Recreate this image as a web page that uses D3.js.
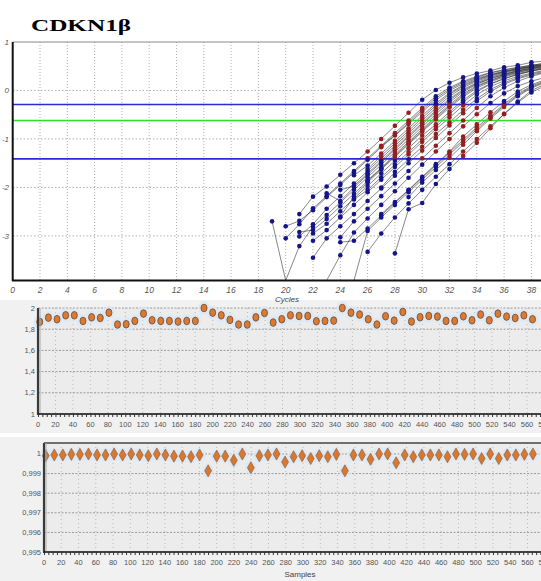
<!DOCTYPE html>
<html>
<head>
<meta charset="utf-8">
<script src="https://cdn.jsdelivr.net/npm/d3@7"></script>
<style>
  body { margin: 0; background: #fff; }
  svg { display: block; }
</style>
</head>
<body>
<svg id="chart" width="541" height="581"></svg>
<script>
// ---- amplification plot data (log fluorescence per cycle) ----
var curveStarts = [21, 20, 19, 20, 21, 21, 22, 22, 22, 23, 24, 24, 24, 25, 25, 26, 26, 26, 27, 27, 28, 29, 25, 24, 23, 27];
var curveLogF = [
  [-2.55,-2.19,-1.98,-1.74,-1.50,-1.26,-1.00,-0.73,-0.46,-0.19,0.01,0.16,0.27,0.35,0.41,0.48,0.52,0.58,0.61],
  [-3.05,-2.76,-2.43,-2.18,-1.92,-1.66,-1.40,-1.14,-0.88,-0.62,-0.36,-0.12,0.06,0.19,0.29,0.37,0.43,0.48,0.52,0.56],
  [-2.70,-3.95,-3.21,-2.81,-2.57,-2.31,-2.05,-1.79,-1.53,-1.27,-1.01,-0.75,-0.49,-0.24,-0.03,0.13,0.24,0.33,0.40,0.46,0.50],
  [-2.80,-2.69,-2.47,-2.20,-1.95,-1.69,-1.43,-1.17,-0.93,-0.69,-0.44,-0.20,0.00,0.14,0.25,0.33,0.40,0.45,0.50,0.54],
  [-3.01,-2.76,-2.44,-2.18,-1.92,-1.66,-1.40,-1.14,-0.88,-0.62,-0.36,-0.12,0.06,0.19,0.29,0.37,0.43,0.48,0.52],
  [-2.92,-2.88,-2.65,-2.39,-2.13,-1.87,-1.61,-1.35,-1.09,-0.83,-0.57,-0.32,-0.10,0.08,0.20,0.30,0.37,0.43,0.47],
  [-2.95,-2.75,-2.49,-2.23,-1.97,-1.71,-1.45,-1.19,-0.93,-0.70,-0.44,-0.20,0.00,0.14,0.25,0.33,0.40,0.45],
  [-3.10,-2.88,-2.62,-2.36,-2.10,-1.84,-1.58,-1.32,-1.06,-0.80,-0.56,-0.31,-0.09,0.08,0.20,0.29,0.36,0.42],
  [-3.45,-3.05,-2.80,-2.55,-2.28,-2.02,-1.76,-1.50,-1.24,-0.98,-0.72,-0.47,-0.22,-0.02,0.13,0.24,0.32,0.38],
  [-3.95,-3.40,-2.93,-2.64,-2.36,-2.08,-1.80,-1.53,-1.26,-1.00,-0.74,-0.49,-0.26,-0.06,0.09,0.19,0.27],
  [-2.05,-1.97,-1.71,-1.45,-1.19,-0.93,-0.67,-0.41,-0.17,0.02,0.16,0.27,0.35,0.41,0.47,0.51],
  [-3.03,-2.70,-2.44,-2.18,-1.92,-1.66,-1.40,-1.14,-0.88,-0.62,-0.36,-0.12,0.06,0.19,0.29,0.37],
  [-3.13,-3.10,-2.85,-2.58,-2.32,-2.06,-1.80,-1.54,-1.28,-1.02,-0.76,-0.52,-0.28,-0.07,0.09,0.20],
  [-3.95,-2.90,-2.62,-2.36,-2.10,-1.84,-1.58,-1.32,-1.06,-0.80,-0.55,-0.31,-0.10,0.07,0.18],
  [-2.25,-2.05,-1.79,-1.53,-1.27,-1.01,-0.75,-0.49,-0.24,-0.03,0.13,0.24,0.33,0.40,0.46],
  [-3.33,-2.95,-2.62,-2.33,-2.05,-1.78,-1.52,-1.26,-1.00,-0.74,-0.49,-0.25,-0.04,0.10],
  [-1.85,-1.60,-1.32,-1.06,-0.80,-0.54,-0.29,-0.07,0.10,0.21,0.31,0.38,0.44,0.49],
  [-1.62,-1.35,-1.09,-0.83,-0.57,-0.31,-0.08,0.09,0.21,0.31,0.38,0.44,0.49,0.53],
  [-2.00,-1.68,-1.42,-1.16,-0.90,-0.66,-0.40,-0.17,0.02,0.16,0.26,0.34,0.40],
  [-1.15,-0.92,-0.66,-0.40,-0.16,0.03,0.17,0.27,0.36,0.42,0.47,0.52,0.56],
  [-3.36,-2.45,-2.32,-1.93,-1.62,-1.35,-1.08,-0.78,-0.48,-0.23,0.00,0.13],
  [-2.20,-1.90,-1.64,-1.39,-1.12,-0.84,-0.58,-0.34,-0.12,0.05,0.16],
  [-1.75,-1.55,-1.30,-1.04,-0.78,-0.52,-0.27,-0.05,0.11,0.23,0.32,0.39,0.45,0.50,0.54],
  [-2.60,-2.19,-1.90,-1.63,-1.37,-1.11,-0.85,-0.60,-0.35,-0.13,0.05,0.18,0.28,0.35,0.41,0.46],
  [-2.12,-2.28,-2.00,-1.74,-1.48,-1.22,-0.96,-0.70,-0.44,-0.20,0.00,0.14,0.25,0.33,0.40,0.45,0.50],
  [-2.55,-2.30,-2.05,-1.78,-1.52,-1.26,-0.95,-0.70,-0.45,-0.22,-0.02,0.12,0.22]
];
var upperThreshold = -0.29, fitThreshold = -0.62, lowerThreshold = -1.41;
var cycleTicks = [0,2,4,6,8,10,12,14,16,18,20,22,24,26,28,30,32,34,36,38];
var logTicks = [1, 0, -1, -2, -3];

// ---- per-sample quality values ----
var sampleSpacing = 9.9;
var efficiency = [1.869,1.909,1.894,1.931,1.931,1.878,1.912,1.906,1.956,1.844,1.847,1.878,1.947,1.884,1.878,1.878,1.872,1.878,1.878,2.0,1.956,1.931,1.888,1.844,1.844,1.912,1.953,
  1.863,1.894,1.931,1.925,1.925,1.875,1.878,1.881,2.0,1.956,1.938,1.894,1.844,1.922,1.881,1.963,1.872,1.913,1.925,1.919,1.878,1.878,1.922,1.884,1.938,1.884,1.947,1.919,1.906,1.931,1.894];
var rSquared = [0.99991,0.99995,0.99995,0.99998,0.99998,1.0,0.99995,0.99995,1.0,0.99995,1.0,0.99995,0.99991,1.0,0.99995,0.99989,0.99989,0.99986,0.99995,0.99914,0.99989,0.99989,0.99968,1.0,0.9993,0.99991,0.99995,
  1.0,0.99959,0.99986,0.99991,0.99977,0.99991,0.99986,0.99998,0.99914,0.99995,0.99995,0.99973,1.0,1.0,0.99955,0.99995,0.99986,0.99995,0.99995,0.99995,0.99986,1.0,0.99998,1.0,0.99977,1.0,0.99977,0.99995,0.99995,0.99998,1.0];
var sampleTicks = [0,20,40,60,80,100,120,140,160,180,200,220,240,260,280,300,320,340,360,380,400,420,440,460,480,500,520,540,560,580];
var effTicks = [1, 1.2, 1.4, 1.6, 1.8, 2];
var effTickLabels = ["1", "1,2", "1,4", "1,6", "1,8", "2"];
var r2Ticks = [0.995, 0.996, 0.997, 0.998, 0.999, 1];
var r2TickLabels = ["0,995", "0,996", "0,997", "0,998", "0,999", "1"];

var svg = d3.select("#chart");
var W = 541;

// ================= amplification plot =================
var x1 = d3.scaleLinear().domain([0, 38]).range([12.7, 531.4]);
var y1 = d3.scaleLinear().domain([-3.92, 1]).range([280.5, 42]).clamp(true);

svg.append("text")
  .attr("x", 31).attr("y", 31)
  .attr("textLength", 100).attr("lengthAdjust", "spacingAndGlyphs")
  .style("font-family", "'Liberation Serif', 'DejaVu Serif', serif")
  .style("font-weight", "bold").style("font-size", "17px")
  .text("CDKN1β");

svg.append("defs").append("clipPath").attr("id", "clip1")
  .append("rect").attr("x", 12.7).attr("y", 41).attr("width", W - 12.7).attr("height", 240);

var g1 = svg.append("g");
// grid
g1.selectAll(".vgrid").data(cycleTicks.slice(1)).enter().append("line")
  .attr("x1", d => x1(d)).attr("x2", d => x1(d))
  .attr("y1", 42).attr("y2", 280)
  .attr("stroke", "#b0b0b0").attr("stroke-width", 1).attr("stroke-dasharray", "1,2");
g1.selectAll(".hgrid").data(logTicks.slice(1)).enter().append("line")
  .attr("x1", 13).attr("x2", W)
  .attr("y1", d => y1(d)).attr("y2", d => y1(d))
  .attr("stroke", "#b0b0b0").attr("stroke-width", 1).attr("stroke-dasharray", "1.5,2");
g1.append("line").attr("x1", 13).attr("x2", W).attr("y1", 42).attr("y2", 42)
  .attr("stroke", "#8a8a8a").attr("stroke-width", 1);

var plot1 = g1.append("g").attr("clip-path", "url(#clip1)");

var curves = curveLogF.map(function(vals, i) {
  return vals.map(function(v, j) { return { c: curveStarts[i] + j, v: v }; });
});

var line1 = d3.line().x(d => x1(d.c)).y(d => y1(d.v));
plot1.selectAll(".curve").data(curves).enter().append("path")
  .attr("d", line1)
  .attr("fill", "none").attr("stroke", "#1a1a1a")
  .attr("stroke-width", 0.7).attr("stroke-opacity", 0.75);

// thresholds
[[upperThreshold, "#2b2bd6"], [fitThreshold, "#2ee02e"], [lowerThreshold, "#2b2bd6"]].forEach(function(t) {
  plot1.append("line").attr("x1", 13).attr("x2", W)
    .attr("y1", y1(t[0])).attr("y2", y1(t[0]))
    .attr("stroke", t[1]).attr("stroke-width", 1.6);
});

var pts = [];
curves.forEach(function(cv) { cv.forEach(function(p) { if (p.v > -3.9) pts.push(p); }); });
plot1.selectAll(".pt").data(pts).enter().append("circle")
  .attr("cx", d => x1(d.c)).attr("cy", d => y1(d.v)).attr("r", 2.3)
  .attr("fill", d => (d.v > upperThreshold || d.v < lowerThreshold) ? "#14148c" : "#951f1f");

// axes lines
g1.append("line").attr("x1", 12.7).attr("x2", 12.7).attr("y1", 42).attr("y2", 281)
  .attr("stroke", "#111").attr("stroke-width", 2);
g1.append("line").attr("x1", 12).attr("x2", W).attr("y1", 280.5).attr("y2", 280.5)
  .attr("stroke", "#111").attr("stroke-width", 2);

var tickFont = "'Liberation Sans', Arial, sans-serif";
g1.selectAll(".xl").data(cycleTicks).enter().append("text")
  .attr("x", d => x1(d)).attr("y", 293).attr("text-anchor", "middle")
  .style("font-family", tickFont).style("font-style", "italic").style("font-size", "8.5px")
  .attr("fill", "#555").text(d => d);
g1.selectAll(".yl").data(logTicks).enter().append("text")
  .attr("x", 9).attr("y", d => y1(d) + 3).attr("text-anchor", "end")
  .style("font-family", tickFont).style("font-style", "italic").style("font-size", "8px")
  .attr("fill", "#555").text(d => d);

// ================= per-sample panels =================
var narrowFont = "'Liberation Sans Narrow', 'Liberation Sans', Arial, sans-serif";

function drawSamplePanel(p) {
  var g = svg.append("g");
  g.append("rect").attr("x", 0).attr("y", p.bgTop).attr("width", W).attr("height", p.bgBottom - p.bgTop)
    .attr("fill", "#f1f1f1");
  g.append("rect").attr("x", p.left).attr("y", p.top).attr("width", W - p.left).attr("height", p.bottom - p.top)
    .attr("fill", "#ececec");

  var x = d3.scaleLinear().domain([0, 560]).range([p.left, p.x560]);
  var y = d3.scaleLinear().domain(p.domain).range([p.bottom, p.top]);

  // grid
  g.selectAll(".vg").data(sampleTicks.slice(1)).enter().append("line")
    .attr("x1", d => x(d)).attr("x2", d => x(d)).attr("y1", p.top).attr("y2", p.bottom)
    .attr("stroke", "#b8b8b8").attr("stroke-dasharray", "1,3");
  g.selectAll(".hg").data(p.ticks).enter().append("line")
    .attr("x1", p.left).attr("x2", W).attr("y1", d => y(d)).attr("y2", d => y(d))
    .attr("stroke", "#9a9a9a").attr("stroke-dasharray", "2,1.5");
  if (p.topBorder) {
    g.append("line").attr("x1", p.left).attr("x2", W).attr("y1", p.top).attr("y2", p.top)
      .attr("stroke", "#444").attr("stroke-width", 1.5);
  }

  var data = p.values.map(function(v, i) { return { s: 2 + i * sampleSpacing, v: v }; });

  // light halos
  g.selectAll(".halo").data(data).enter().append("ellipse")
    .attr("cx", d => x(d.s)).attr("cy", d => y(d.v)).attr("rx", 6).attr("ry", 7)
    .attr("fill", "#d9e8f6").attr("fill-opacity", 0.8);

  if (p.marker === "oval") {
    g.selectAll(".mk").data(data).enter().append("ellipse")
      .attr("cx", d => x(d.s)).attr("cy", d => y(d.v)).attr("rx", 3).attr("ry", 3.8)
      .attr("fill", "#db7a30").attr("stroke", "#7d5030").attr("stroke-width", 0.9);
  } else {
    g.selectAll(".mk").data(data).enter().append("path")
      .attr("transform", d => "translate(" + x(d.s) + "," + y(d.v) + ")")
      .attr("d", d3.symbol().type(d3.symbolDiamond).size(42))
      .attr("fill", "#d9772e").attr("stroke", "#8a5a35").attr("stroke-width", 0.6);
  }

  // left and bottom axis
  g.append("line").attr("x1", p.left).attr("x2", p.left).attr("y1", p.top).attr("y2", p.bottom + 1)
    .attr("stroke", "#3a3a3a").attr("stroke-width", 2.2);
  g.append("line").attr("x1", p.left + 2).attr("x2", p.left + 2).attr("y1", p.top).attr("y2", p.bottom)
    .attr("stroke", "#a8a8a8").attr("stroke-width", 1);
  g.append("line").attr("x1", p.left).attr("x2", W).attr("y1", p.bottom).attr("y2", p.bottom)
    .attr("stroke", "#111").attr("stroke-width", 1.6);
  g.append("g").attr("transform", "translate(0," + p.bottom + ")")
    .call(d3.axisBottom(x).tickValues(d3.range(0, 600, 5)).tickSize(3).tickFormat(""))
    .call(a => a.select(".domain").remove())
    .selectAll("line").attr("stroke", "#333");

  g.selectAll(".xl").data(sampleTicks).enter().append("text")
    .attr("x", d => x(d)).attr("y", p.bottom + 13).attr("text-anchor", "middle")
    .style("font-family", narrowFont).style("font-size", "7.5px").attr("fill", "#555")
    .text(d => d);
  g.selectAll(".yl").data(p.ticks).enter().append("text")
    .attr("x", p.left - 3).attr("y", d => y(d) + 2.5).attr("text-anchor", "end")
    .style("font-family", narrowFont).style("font-size", "7.5px").attr("fill", "#555")
    .text((d, i) => p.tickLabels[i]);
}

drawSamplePanel({
  bgTop: 300, bgBottom: 433, left: 38, top: 308, bottom: 414, x560: 527,
  domain: [1, 2], ticks: effTicks, tickLabels: effTickLabels,
  values: efficiency, marker: "oval", topBorder: false
});
drawSamplePanel({
  bgTop: 437, bgBottom: 581, left: 44, top: 443, bottom: 552, x560: 527.5,
  domain: [0.995, 1.00056], ticks: r2Ticks, tickLabels: r2TickLabels,
  values: rSquared, marker: "diamond", topBorder: true
});

svg.append("text").attr("x", 287).attr("y", 302).attr("text-anchor", "middle")
  .style("font-family", tickFont).style("font-style", "italic").style("font-size", "8px")
  .attr("fill", "#444").text("Cycles");
svg.append("text").attr("x", 300).attr("y", 577).attr("text-anchor", "middle")
  .style("font-family", narrowFont).style("font-size", "8px")
  .attr("fill", "#444").text("Samples");
</script>
</body>
</html>
